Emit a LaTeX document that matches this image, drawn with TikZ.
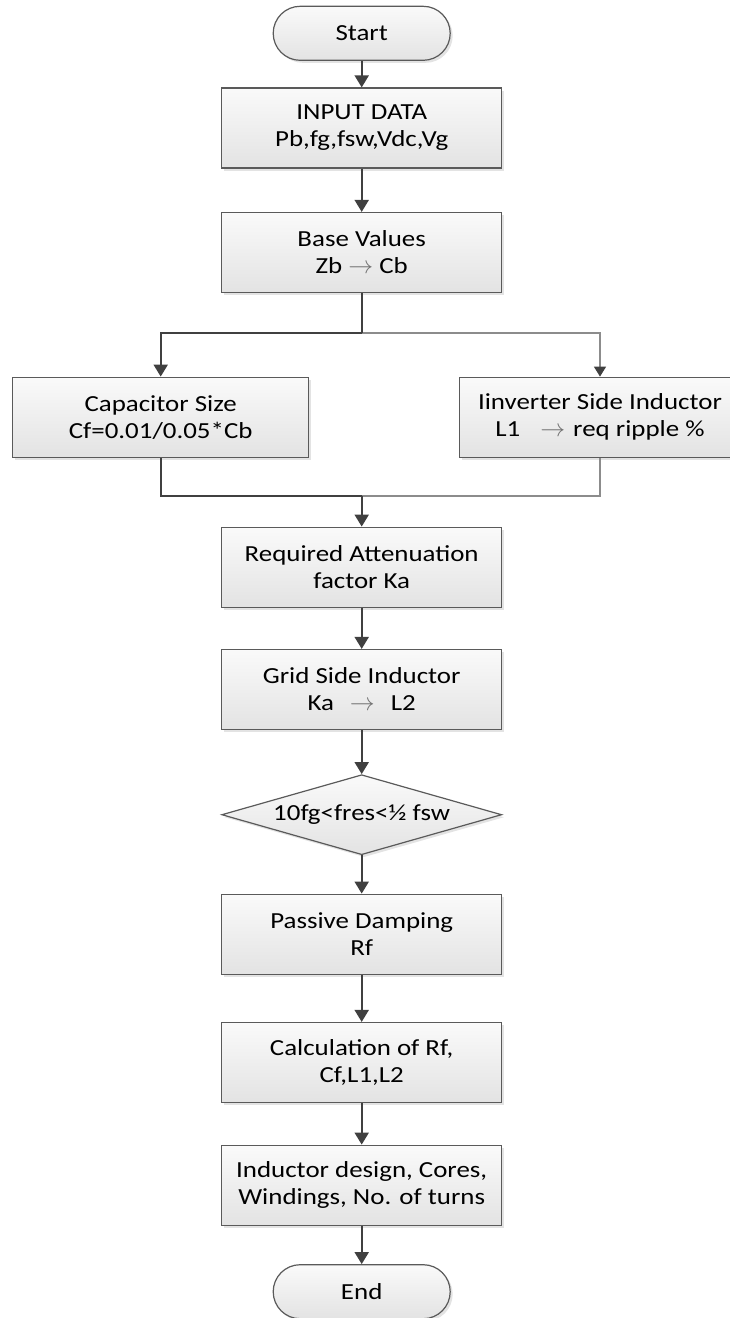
\documentclass[tikz,border=0pt]{standalone}
\usepackage{fontspec}
\setmainfont{Carlito}[FakeStretch=1.17]
\usetikzlibrary{arrows.meta,shapes.geometric,shadows}
\definecolor{edgec}{HTML}{5A5A5A}
\definecolor{arrc}{HTML}{404040}
\definecolor{larrc}{HTML}{8C8C8C}
\newcommand\boxfont{\fontsize{23}{27}\selectfont}
\newcommand\garr{{\color{black!55}$\rightarrow$}}
\tikzset{
  box/.style={draw=edgec, line width=1.2pt, top color=white!98!black, bottom color=white!89!black,
    minimum width=280pt, minimum height=80pt, align=center, inner sep=2pt,
    drop shadow={opacity=0.22, shadow xshift=2.5pt, shadow yshift=-2.5pt}, font=\boxfont},
  term/.style={box, rounded corners=27pt, minimum width=177pt, minimum height=54pt},
  dec/.style={box, diamond, aspect=3.46, inner sep=0pt, minimum width=280pt, minimum height=80pt},
  conn/.style={draw=arrc, line width=2pt, -{Triangle[length=12pt,width=14pt]}},
  dline/.style={draw=arrc, line width=2pt},
  lline/.style={draw=larrc, line width=1.4pt},
  lconn/.style={draw=larrc, line width=1.4pt, -{Triangle[length=10pt,width=12pt,color=arrc,fill=arrc]}}
}
\begin{document}
\begin{tikzpicture}[x=1pt,y=-1pt]
\useasboundingbox (0,0) rectangle (730,1318);
\node[term] (start) at (361.7,33.3) {Start};
\node[box] (input) at (361.7,128) {INPUT DATA\\Pb,fg,fsw,Vdc,Vg};
\node[box] (base) at (361.7,252.5) {Base Values\\Zb \garr{} Cb};
\node[box, minimum width=296pt] (cap) at (160.7,417.2) {Capacitor Size\\Cf=0.01/0.05*Cb};
\node[box, minimum width=281pt] (inv) at (600,417.2) {Iinverter Side Inductor\\L1\hspace{20pt}\garr\hspace{8pt}req ripple \%};
\node[box] (req) at (361.7,567.2) {Required Attenuation\\factor Ka};
\node[box] (grid) at (361.7,689.5) {Grid Side Inductor\\Ka\hspace{16pt}\garr\hspace{16pt}L2};
\node[dec] (cond) at (361.7,814.7) {10fg<fres<½ fsw};
\node[box] (pass) at (361.7,934.2) {Passive Damping\\Rf};
\node[box] (calc) at (361.7,1062.5) {Calculation of Rf,\\Cf,L1,L2};
\node[box] (ind) at (361.7,1185.2) {Inductor design, Cores,\\Windings, No. of turns};
\node[term] (end) at (361.7,1291.7) {End};
\coordinate (split) at (361.7,333);
\coordinate (merge) at (361.7,496);
\draw[conn] (start) -- (input);
\draw[conn] (input) -- (base);
\draw[lconn] (split) -| (inv);
\draw[lline] (inv) |- (merge);
\draw[dline] (base) -- (split);
\draw[conn] (split) -| (cap);
\draw[dline] (cap) |- (merge);
\draw[conn] (merge) -- (req);
\draw[conn] (req) -- (grid);
\draw[conn] (grid) -- (cond);
\draw[conn] (cond) -- (pass);
\draw[conn] (pass) -- (calc);
\draw[conn] (calc) -- (ind);
\draw[conn] (ind) -- (end);
\end{tikzpicture}
\end{document}
